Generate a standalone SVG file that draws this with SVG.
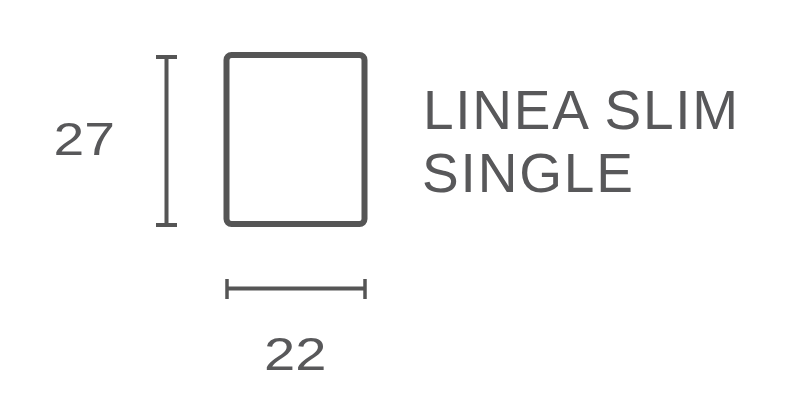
<svg xmlns="http://www.w3.org/2000/svg" width="789" height="417" viewBox="0 0 789 417">
<style>
.t{font-family:"Liberation Sans",Arial,sans-serif;fill:#58585a}
.ln{stroke:#555;fill:none}
</style>
<rect width="789" height="417" fill="#fff"/>
<g id="frame">
<rect x="226.5" y="55" width="138" height="169" rx="5" class="ln" stroke-width="6"/>
</g>
<g id="connectors">
<line x1="166.5" y1="56" x2="166.5" y2="226" class="ln" stroke-width="4"/>
<line x1="156" y1="57" x2="177" y2="57" class="ln" stroke-width="4"/>
<line x1="156" y1="225" x2="177" y2="225" class="ln" stroke-width="4"/>
<line x1="226" y1="288.5" x2="366" y2="288.5" class="ln" stroke-width="4"/>
<line x1="227" y1="279" x2="227" y2="299" class="ln" stroke-width="3.5"/>
<line x1="365" y1="279" x2="365" y2="299" class="ln" stroke-width="3.5"/>
</g>
<g id="height-label"><text transform="translate(53.5 155) scale(1.2 1)" class="t" font-size="46">27</text></g>
<g id="width-label"><text transform="translate(264 370) scale(1.22 1)" class="t" font-size="46">22</text></g>
<g id="title">
<text x="423" y="128.5" class="t" font-size="55" textLength="315" lengthAdjust="spacing">LINEA SLIM</text>
<text x="422" y="192" class="t" font-size="55" textLength="211" lengthAdjust="spacing">SINGLE</text>
</g>
</svg>
